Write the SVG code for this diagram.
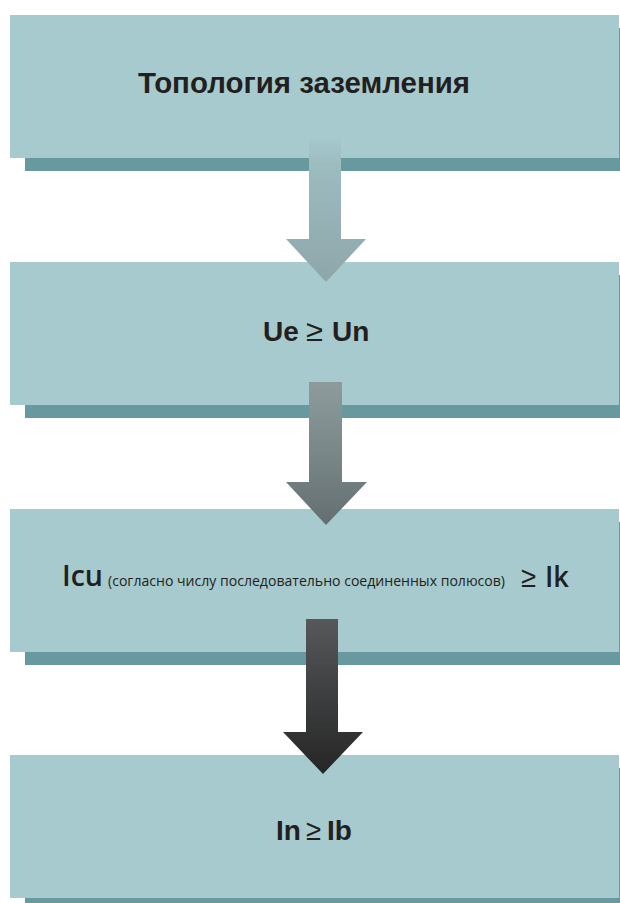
<svg xmlns="http://www.w3.org/2000/svg" width="620" height="903" viewBox="0 0 620 903">
<style>
.box{fill:#a6cacd}
.shadow{fill:#68999e}
.t{font-family:"Liberation Sans",Arial,sans-serif;font-weight:bold;fill:#231f20}
.thin{font-family:"Liberation Sans",Arial,sans-serif;font-weight:normal;fill:#231f20}
.m{font-family:"Open Sans","Liberation Sans",sans-serif;fill:#231f20}
</style>
<defs>
<linearGradient id="g1" x1="0" y1="135" x2="0" y2="282" gradientUnits="userSpaceOnUse">
<stop offset="0" stop-color="#a6cacd"/>
<stop offset="0.2" stop-color="#9dbcc0"/>
<stop offset="1" stop-color="#8ea6a9"/>
</linearGradient>
<linearGradient id="g2" x1="0" y1="382" x2="0" y2="525" gradientUnits="userSpaceOnUse">
<stop offset="0" stop-color="#8d9b9d"/>
<stop offset="0.5" stop-color="#7a8789"/>
<stop offset="1" stop-color="#636e70"/>
</linearGradient>
<linearGradient id="g3" x1="0" y1="619" x2="0" y2="774" gradientUnits="userSpaceOnUse">
<stop offset="0" stop-color="#565859"/>
<stop offset="0.5" stop-color="#3d3e3f"/>
<stop offset="1" stop-color="#262626"/>
</linearGradient>
</defs>
<rect width="620" height="903" fill="#ffffff"/>
<g id="node1">
<rect class="shadow" x="25" y="28" width="600" height="143"/>
<rect class="box" x="10" y="15" width="609" height="143"/>
<text class="t" x="304" y="93" font-size="29" text-anchor="middle" textLength="332" lengthAdjust="spacingAndGlyphs">Топология заземления</text>
</g>
<g id="node2">
<rect class="shadow" x="25" y="275" width="600" height="143"/>
<rect class="box" x="10" y="262" width="609" height="143"/>
<text class="t" x="263" y="341" font-size="28">Ue</text>
<text class="thin" x="306" y="341" font-size="30" textLength="17" lengthAdjust="spacingAndGlyphs">≥</text>
<text class="t" x="332" y="341" font-size="28">Un</text>
</g>
<g id="node3">
<rect class="shadow" x="25" y="522" width="600" height="143"/>
<rect class="box" x="10" y="509" width="609" height="143"/>
<text class="m" x="62" y="586" font-size="29" font-weight="600" textLength="41" lengthAdjust="spacingAndGlyphs">Icu</text>
<text class="m" x="108" y="586" font-size="14" textLength="397" lengthAdjust="spacingAndGlyphs">(согласно числу последовательно соединенных полюсов)</text>
<text class="thin" x="521" y="587" font-size="29" textLength="15" lengthAdjust="spacingAndGlyphs">≥</text>
<text class="m" x="545" y="587" font-size="29" font-weight="600" textLength="24" lengthAdjust="spacingAndGlyphs">Ik</text>
</g>
<g id="node4">
<rect class="shadow" x="25" y="768" width="600" height="143"/>
<rect class="box" x="10" y="755" width="609" height="143"/>
<text class="t" x="276" y="840" font-size="28">In</text>
<text class="thin" x="306" y="840" font-size="29" textLength="15" lengthAdjust="spacingAndGlyphs">≥</text>
<text class="t" x="327" y="840" font-size="28">Ib</text>
</g>
<g id="connectors">
<polygon fill="url(#g1)" points="309,135 341,135 341,239 366,239 326,282 286,239 309,239"/>
<polygon fill="url(#g2)" points="309,382 342,382 342,482 367,482 326,525 286,482 309,482"/>
<polygon fill="url(#g3)" points="306,619 338,619 338,732 363,732 323,774 283,732 306,732"/>
</g>
</svg>
